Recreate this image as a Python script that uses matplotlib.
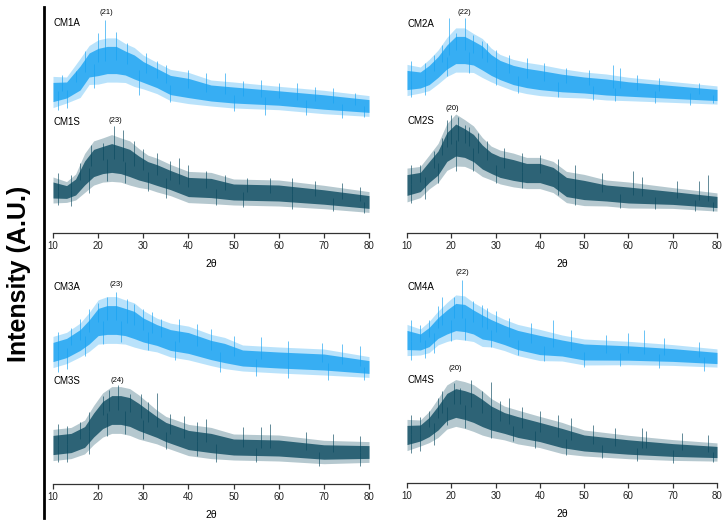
import numpy as np
import matplotlib
matplotlib.use('Agg')
import matplotlib.pyplot as plt
from matplotlib.lines import Line2D

plt.rcParams['font.family'] = ['Liberation Sans', 'DejaVu Sans']

# Traces: 2-theta positions, band centre and band half-height (A.U.)
# plus the visible spikes above (spk) and below (dip) the band.
cm1a_x = [10, 13, 16, 18, 20, 22, 24, 26, 28, 30, 33, 36, 40, 45, 50, 60, 70, 80]
cm1a_mid = [141, 143, 155, 168, 171, 173, 173, 170, 166, 161, 155, 148, 145, 140, 138, 135, 131, 127]
cm1a_hw = [12, 10, 15, 15, 17, 17, 17, 15, 15, 13, 12, 12, 12, 10, 10, 9, 9, 8]
cm1a_spk = [(20, 200), (21.5, 213), (24, 201), (26.5, 190), (17, 182), (35, 168), (48, 160), (56, 153),
            (64, 150), (12, 158), (15, 162), (30.5, 180), (33, 172), (40, 163), (44, 160), (52, 152),
            (60, 150), (68, 146), (72, 145), (77, 140)]
cm1a_dip = [(11, 123), (13, 125), (19, 145), (29, 138), (36, 131), (50, 122), (57, 118), (66, 118),
            (74, 115), (79, 116)]

cm1s_x = [10, 13, 15, 17, 19, 21, 23, 25, 27, 29, 31, 33, 36, 40, 45, 50, 60, 70, 80]
cm1s_mid = [43, 41, 46, 60, 70, 73, 75, 73, 70, 65, 61, 58, 53, 46, 45, 41, 40, 36, 31]
cm1s_hw = [10, 8, 10, 15, 17, 17, 18, 17, 17, 15, 13, 13, 12, 12, 12, 10, 10, 9, 8]
cm1s_spk = [(21, 90), (23.5, 107), (25.5, 103), (30, 84), (38, 75), (44, 62), (63, 55), (74, 50),
            (11, 60), (14, 58), (16, 70), (18.5, 88), (28, 92), (33, 80), (36, 72), (40, 68),
            (48, 58), (53, 55), (58, 55), (68, 52), (78, 46)]
cm1s_dip = [(11, 28), (14, 27), (18, 40), (22, 52), (26, 50), (31, 42), (35, 35), (46, 28),
            (52, 26), (63, 24), (72, 22), (79, 20)]

cm2a_x = [10, 13, 15, 17, 19, 21, 23, 25, 27, 29, 31, 34, 37, 40, 45, 50, 55, 60, 70, 80]
cm2a_mid = [153, 153, 158, 166, 176, 183, 183, 180, 175, 168, 163, 158, 155, 153, 150, 148, 146, 144, 141, 138]
cm2a_hw = [12, 10, 12, 13, 15, 17, 17, 15, 15, 13, 12, 12, 12, 12, 11, 10, 10, 9, 8, 7]
cm2a_spk = [(19.5, 215), (21, 200), (23, 215), (25, 198), (28, 190), (37, 175), (56.5, 168), (58, 165),
            (11, 172), (14, 170), (16, 178), (18, 188), (27, 192), (30, 183), (33, 178), (41, 170),
            (46, 165), (51, 163), (62, 158), (67, 155), (76, 150)]
cm2a_dip = [(11, 136), (14, 138), (19, 157), (24, 160), (30, 148), (35, 140), (44, 136), (52, 133),
            (57, 132), (66, 130), (74, 128), (79, 130)]

cm2s_x = [10, 13, 15, 17, 19, 21, 23, 25, 27, 29, 31, 34, 37, 40, 43, 46, 50, 55, 60, 70, 80]
cm2s_mid = [48, 51, 61, 70, 86, 93, 90, 85, 76, 70, 66, 63, 60, 60, 56, 46, 43, 40, 38, 35, 31]
cm2s_hw = [13, 12, 13, 15, 18, 20, 18, 17, 15, 13, 13, 13, 12, 12, 12, 12, 12, 10, 10, 8, 7]
cm2s_spk = [(19, 113), (20, 118), (21.5, 116), (23, 108), (26, 100), (40, 78), (61, 62), (78, 58),
            (11, 68), (13, 68), (16, 82), (18, 95), (24, 106), (28, 92), (32, 85), (36, 80),
            (44, 74), (48, 68), (54, 60), (63, 56), (71, 52), (76, 52)]
cm2s_dip = [(11, 30), (14, 34), (17, 50), (21, 62), (25, 62), (30, 50), (36, 45), (44, 38),
            (48, 28), (58, 25), (66, 24), (75, 22), (79, 22)]

cm3a_x = [10, 13, 16, 18, 20, 22, 24, 26, 28, 30, 33, 36, 40, 45, 48, 52, 60, 70, 80]
cm3a_mid = [132, 136, 144, 152, 162, 164, 164, 162, 159, 154, 149, 144, 141, 134, 131, 126, 124, 122, 117]
cm3a_hw = [12, 12, 13, 15, 17, 18, 18, 17, 17, 15, 13, 13, 13, 12, 12, 10, 10, 10, 8]
cm3a_spk = [(20, 181), (22, 187), (24, 192), (26.5, 185), (30, 175), (34, 165), (45, 155), (69.5, 141),
            (11, 152), (14, 156), (16, 165), (18, 175), (28, 180), (32, 172), (38, 165), (42, 160),
            (50, 148), (56, 147), (62, 143), (74, 140), (78, 138)]
cm3a_dip = [(11, 112), (13, 115), (17, 128), (21, 140), (25, 142), (31, 134), (37, 124), (47, 112),
            (55, 108), (62, 106), (71, 104), (79, 104)]

cm3s_x = [10, 14, 17, 19, 21, 23, 25, 27, 29, 31, 33, 35, 40, 45, 50, 60, 70, 80]
cm3s_mid = [39, 41, 47, 59, 69, 74, 74, 72, 67, 62, 57, 52, 44, 41, 37, 36, 32, 32]
cm3s_hw = [12, 12, 13, 15, 17, 18, 18, 18, 17, 15, 13, 12, 12, 12, 10, 10, 9, 8]
cm3s_spk = [(21, 88), (22.5, 94), (24.5, 99), (27, 90), (29.5, 90), (33, 91), (44, 65), (58, 60),
            (11, 60), (13, 58), (16, 62), (18, 72), (31, 82), (36, 70), (39, 68), (42, 62),
            (52, 57), (56, 57), (66, 52), (72, 50), (78, 48)]
cm3s_dip = [(11, 22), (13, 22), (18, 30), (22, 48), (26, 50), (30, 45), (35, 35), (42, 28),
            (46, 22), (55, 22), (69, 18), (78, 18)]

cm4a_x = [10, 13, 15, 17, 19, 21, 23, 25, 27, 29, 32, 35, 40, 45, 50, 60, 70, 80]
cm4a_mid = [143, 141, 146, 155, 161, 166, 165, 161, 156, 153, 148, 143, 138, 135, 131, 130, 128, 125]
cm4a_hw = [12, 10, 12, 13, 15, 17, 17, 15, 15, 13, 12, 12, 12, 10, 10, 9, 8, 7]
cm4a_spk = [(18, 186), (20.5, 186), (22.5, 203), (25, 182), (28, 175), (43, 163), (63.5, 153),
            (11, 163), (13, 158), (15, 163), (17, 177), (27, 178), (30, 172), (33, 165), (38, 160),
            (47, 153), (55, 148), (60, 150), (68, 145), (76, 141)]
cm4a_dip = [(11, 123), (14, 125), (16, 130), (20, 142), (23, 143), (29, 136), (35, 128), (41, 122),
            (50, 116), (58, 117), (67, 115), (77, 112)]

cm4s_x = [10, 13, 15, 17, 19, 21, 23, 25, 27, 29, 32, 35, 40, 45, 50, 60, 70, 80]
cm4s_mid = [48, 50, 56, 65, 76, 80, 78, 75, 70, 65, 60, 56, 51, 45, 40, 36, 33, 31]
cm4s_hw = [12, 10, 12, 15, 17, 18, 18, 18, 17, 15, 13, 13, 12, 12, 10, 9, 8, 7]
cm4s_spk = [(18, 92), (20.5, 100), (22, 95), (24.5, 103), (29, 101), (33, 85), (47, 65), (63, 55),
            (11, 68), (13, 66), (15, 72), (17, 85), (27, 92), (31, 82), (36, 76), (40, 72),
            (44, 68), (52, 58), (57, 55), (64, 52), (72, 50), (78, 48)]
cm4s_dip = [(11, 30), (13, 32), (16, 38), (19, 58), (23, 55), (29, 45), (34, 42), (39, 35),
            (46, 28), (54, 25), (62, 22), (70, 20), (79, 21)]

# Labels: (name, label y), (peak text, x, y)
panel_names = [('CM1A', 210, 'CM1S', 111), ('CM2A', 209, 'CM2S', 112),
               ('CM3A', 197, 'CM3S', 103), ('CM4A', 196, 'CM4S', 103)]
peak_labels = [[('(21)', 21.7, 220), ('(23)', 23.7, 113)],
               [('(22)', 22.9, 220), ('(20)', 20.2, 125)],
               [('(23)', 24.1, 199), ('(24)', 24.3, 103)],
               [('(22)', 22.5, 210), ('(20)', 20.8, 114)]]

panels = [
    [(cm1a_x, cm1a_mid, cm1a_hw, cm1a_spk, cm1a_dip), (cm1s_x, cm1s_mid, cm1s_hw, cm1s_spk, cm1s_dip)],
    [(cm2a_x, cm2a_mid, cm2a_hw, cm2a_spk, cm2a_dip), (cm2s_x, cm2s_mid, cm2s_hw, cm2s_spk, cm2s_dip)],
    [(cm3a_x, cm3a_mid, cm3a_hw, cm3a_spk, cm3a_dip), (cm3s_x, cm3s_mid, cm3s_hw, cm3s_spk, cm3s_dip)],
    [(cm4a_x, cm4a_mid, cm4a_hw, cm4a_spk, cm4a_dip), (cm4s_x, cm4s_mid, cm4s_hw, cm4s_spk, cm4s_dip)],
]

colours = ['#17a2f2', '#0b4a60']

W, H = 728, 526
fig = plt.figure(figsize=(W / 100, H / 100), dpi=100)

# axes boxes in pixels: left, spine y, width
boxes = [(53, 233, 316), (407, 233, 310), (53, 484, 316), (407, 483, 310)]

for k, (left, spine_y, width) in enumerate(boxes):
    ax = fig.add_axes([left / W, 1 - spine_y / H, width / W, 226 / H])
    for j, (xs, mid, hw, spk, dip) in enumerate(panels[k]):
        xs = np.array(xs, dtype=float)
        mid = np.array(mid, dtype=float)
        hw = np.array(hw, dtype=float)
        c = colours[j]
        ax.fill_between(xs, mid - hw * 1.3, mid + hw * 1.3, color=c, alpha=0.3, lw=0)
        ax.fill_between(xs, mid - hw * 0.8, mid + hw * 0.8, color=c, alpha=0.8, lw=0)
        for marks in (spk, dip):
            px = [m[0] for m in marks]
            base = np.interp(px, xs, mid)
            ax.vlines(px, base, [m[1] for m in marks], color=c, lw=0.6, alpha=0.75)
    top_name, top_y, bot_name, bot_y = panel_names[k]
    ax.text(10, top_y, top_name, fontsize=7, ha='left', va='center')
    ax.text(10, bot_y, bot_name, fontsize=7, ha='left', va='center')
    for txt, px, py in peak_labels[k]:
        ax.text(px, py, txt, fontsize=5.5, ha='center', va='center')
    ax.set_xlim(10, 80)
    ax.set_ylim(0, 226)
    ax.set_xticks(range(10, 81, 10))
    ax.set_yticks([])
    for side in ['top', 'right', 'left']:
        ax.spines[side].set_visible(False)
    ax.spines['bottom'].set_color('#333333')
    ax.spines['bottom'].set_linewidth(0.9)
    ax.tick_params(axis='x', direction='out', length=3.5, width=0.9, colors='#333333',
                   labelsize=7, labelcolor='#222222', pad=2)
    ax.set_xlabel('2θ', fontsize=7.5, labelpad=6)
    ax.patch.set_visible(False)

# left vertical bar and shared y label
fig.add_artist(Line2D([44 / W, 44 / W], [1 - 7 / H, 1 - 518 / H], color='black', lw=2.0))
fig.text(19 / W, 1 - 274 / H, 'Intensity (A.U.)', rotation=90, fontsize=18,
         fontweight='bold', ha='center', va='center')

fig.savefig('out.png', dpi=100)
